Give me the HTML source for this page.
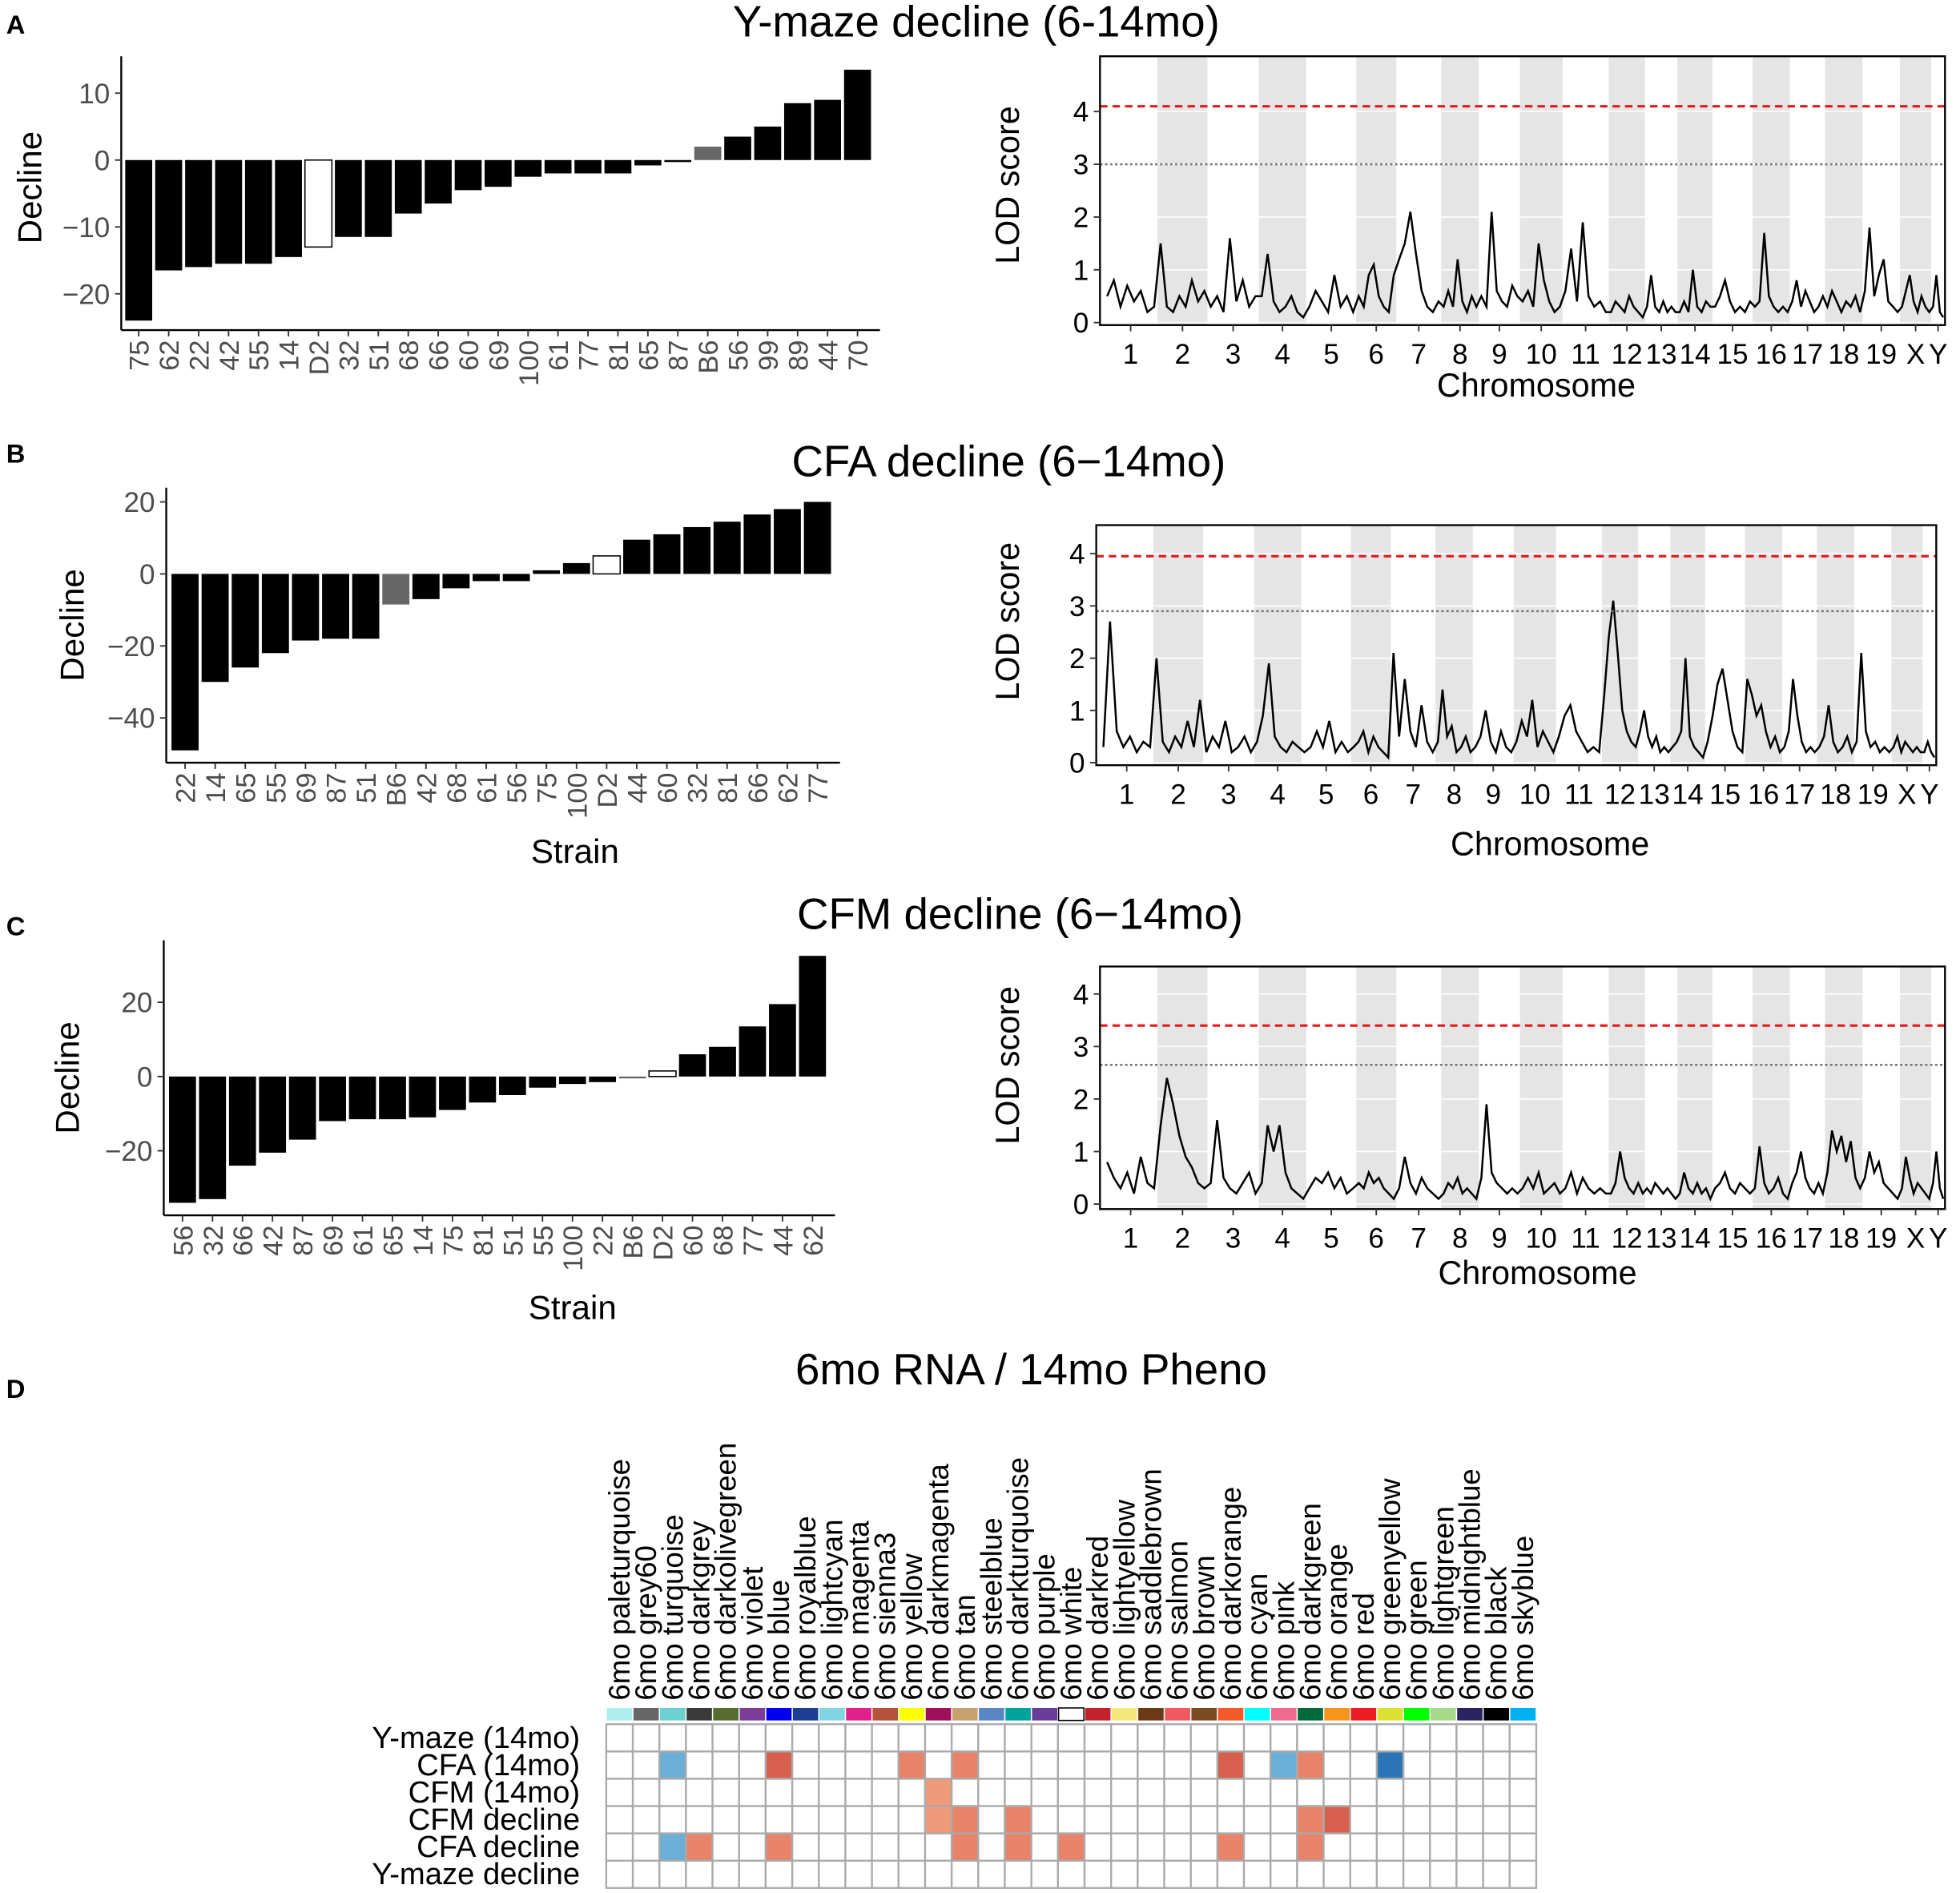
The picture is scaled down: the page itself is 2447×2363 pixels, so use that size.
<!DOCTYPE html>
<html><head><meta charset="utf-8"><style>
html,body{margin:0;padding:0;background:#fff;}
svg{display:block;font-family:"Liberation Sans",Arial,sans-serif;}
</style></head><body>
<svg id="fig" width="2447" height="2363" viewBox="0 0 1568 1514" preserveAspectRatio="none" xmlns="http://www.w3.org/2000/svg">
<g font-weight="bold" font-size="21" fill="#000">
<text x="5" y="27">A</text>
<text x="5" y="370">B</text>
<text x="5" y="748">C</text>
<text x="5" y="1118">D</text>
</g>
<g font-size="35" text-anchor="middle" fill="#000">
<text x="781" y="29">Y-maze decline (6-14mo)</text>
<text x="807" y="381">CFA decline (6−14mo)</text>
<text x="816" y="743">CFM decline (6−14mo)</text>
<text x="825" y="1107">6mo RNA / 14mo Pheno</text>
</g>
<g id="barA"></g>
<g id="barB"></g>
<g id="barC"></g>
<g id="lodA"></g>
<g id="lodB"></g>
<g id="lodC"></g>
<g id="heat"></g>
</svg>
<script>
const NS="http://www.w3.org/2000/svg";
function mk(parent,tag,attrs,text){const e=document.createElementNS(NS,tag);for(const k in attrs)e.setAttribute(k,attrs[k]);if(text!==undefined)e.textContent=text;parent.appendChild(e);return e;}

// ---------- Bar chart data ----------
const strainsA=["75","62","22","42","55","14","D2","32","51","68","66","60","69","100","61","77","81","65","87","B6","56","99","89","44","70"];
const declineA=[-24,-16.5,-16,-15.5,-15.5,-14.5,-13,-11.5,-11.5,-8,-6.5,-4.5,-4,-2.5,-2,-2,-2,-0.8,-0.3,2,3.5,5,8.5,9,13.5];
const ticksA=[10,0,-10,-20];
const strainsB=["22","14","65","55","69","87","51","B6","42","68","61","56","75","100","D2","44","60","32","81","66","62","77"];
const declineB=[-49,-30,-26,-22,-18.5,-18,-18,-8.5,-7,-4,-2,-2,1,3,5,9.5,11,13,14.5,16.5,18,20];
const ticksB=[20,0,-20,-40];
const strainsC=["56","32","66","42","87","69","61","65","14","75","81","51","55","100","22","B6","D2","60","68","77","44","62"];
const declineC=[-34,-33,-24,-20.5,-17,-12,-11.5,-11.5,-11,-9,-7,-5,-3,-2,-1.5,-0.5,1.5,6,8,13.5,19.5,32.5];
const ticksC=[20,0,-20];

function barChart(g,strains,vals,ticks,o){
  const y=v=>o.y0-(v*o.ppu);
  const band=(o.x1-o.xs)/strains.length;
  mk(g,"line",{x1:o.ax,y1:o.top,x2:o.ax,y2:o.bot,stroke:"#000","stroke-width":1.5});
  mk(g,"line",{x1:o.ax,y1:o.bot,x2:o.x1+6,y2:o.bot,stroke:"#000","stroke-width":1.5});
  ticks.forEach(t=>{
    mk(g,"line",{x1:o.ax-5,y1:y(t),x2:o.ax,y2:y(t),stroke:"#333","stroke-width":1.2});
    const tx=mk(g,"text",{x:o.ax-9,y:y(t)+8,"text-anchor":"end","font-size":22.5,fill:"#4d4d4d"},String(t).replace("-","−"));
    
    
  });
  strains.forEach((s,i)=>{
    const v=vals[i];const cx=o.xs+band*(i+0.5);const w=band*0.9;
    let fill="#000";if(s==="D2")fill="#fff";if(s==="B6")fill="#666";
    const r=mk(g,"rect",{x:cx-w/2,y:Math.min(y(v),y(0)),width:w,height:Math.max(Math.abs(y(v)-y(0)),0.6),fill:fill,stroke:s==="D2"?"#000":"none","stroke-width":1});
    
    
    mk(g,"line",{x1:cx,y1:o.bot,x2:cx,y2:o.bot+5,stroke:"#333","stroke-width":1.2});
    const t=mk(g,"text",{x:cx+8,y:o.bot+8,"text-anchor":"end","font-size":22,fill:"#4d4d4d",transform:`rotate(-90 ${cx+8} ${o.bot+8})`},s);
    
    
  });
  const yt=mk(g,"text",{x:o.ytx,y:o.yty,"text-anchor":"middle","font-size":27,transform:`rotate(-90 ${o.ytx} ${o.yty})`},"Decline");
  
  
  if(o.xtitle){const xt=mk(g,"text",{x:o.xtx,y:o.xty,"text-anchor":"middle","font-size":27},"Strain");
    
    }
}
barChart(document.getElementById("barA"),strainsA,declineA,ticksA,{ax:97,top:45,bot:264,y0:128,ppu:5.35,xs:99,x1:698,ytx:33,yty:150});
barChart(document.getElementById("barB"),strainsB,declineB,ticksB,{ax:133,top:390,bot:610,y0:459,ppu:2.88,xs:136,x1:666,ytx:67,yty:500,xtitle:true,xtx:460,xty:690});
barChart(document.getElementById("barC"),strainsC,declineC,ticksC,{ax:131,top:752,bot:972,y0:861,ppu:2.97,xs:134,x1:662,ytx:63,yty:862,xtitle:true,xtx:458,xty:1055});

// ---------- LOD data ----------
const chromNames=["1","2","3","4","5","6","7","8","9","10","11","12","13","14","15","16","17","18","19","X","Y"];
const chromLen=[43,40,41,38,40,32,36,30,33,34,37,29,26,28,32,30,28,30,30,25,11];
const lodA=[[0.5,0.8,0.3,0.7,0.4,0.6,0.2,0.3],[1.5,0.3,0.2,0.5,0.3,0.8,0.4,0.6],[0.3,0.5,0.2,1.6,0.4,0.8,0.3,0.5],[0.5,1.3,0.4,0.2,0.3,0.5,0.2,0.1],[0.3,0.6,0.4,0.2,0.9,0.3,0.5,0.2],[0.5,0.3,0.9,1.1,0.5,0.3,0.2,0.9],[1.2,1.5,2.1,1.3,0.6,0.3,0.2,0.4],[0.3,0.6,0.3,1.2,0.4,0.2,0.5,0.3],[0.5,0.3,2.1,0.6,0.4,0.3,0.7,0.5],[0.4,0.6,0.3,1.5,0.8,0.4,0.2,0.3],[0.6,1.4,0.4,1.9,0.5,0.3,0.4,0.2],[0.2,0.4,0.3,0.2,0.5,0.3,0.2,0.1],[0.3,0.9,0.3,0.2,0.4,0.2,0.3,0.2],[0.2,0.4,0.2,1.0,0.3,0.2,0.4,0.3],[0.3,0.5,0.8,0.4,0.2,0.3,0.2,0.4],[0.3,0.4,1.7,0.5,0.3,0.2,0.3,0.2],[0.4,0.8,0.3,0.6,0.4,0.2,0.3,0.5],[0.3,0.6,0.4,0.2,0.4,0.3,0.5,0.2],[0.6,1.8,0.5,0.9,1.2,0.4,0.3,0.2],[0.3,0.6,0.9,0.4,0.2,0.5,0.3,0.2],[0.3,0.9,0.2,0.1]];
const lodB=[[0.3,2.7,0.6,0.3,0.5,0.2,0.4,0.3],[2.0,0.4,0.2,0.5,0.3,0.8,0.3,1.2],[0.2,0.5,0.3,0.8,0.2,0.3,0.5,0.2],[0.4,0.9,1.9,0.5,0.3,0.2,0.4,0.3],[0.2,0.3,0.6,0.3,0.8,0.2,0.4,0.2],[0.3,0.4,0.6,0.2,0.5,0.3,0.2,0.1],[2.1,0.5,1.6,0.6,0.3,1.1,0.4,0.2],[0.4,1.4,0.5,0.7,0.2,0.3,0.5,0.2],[0.3,0.5,1.0,0.4,0.2,0.6,0.3,0.2],[0.4,0.8,0.5,1.2,0.3,0.6,0.4,0.2],[0.5,0.9,1.1,0.6,0.4,0.2,0.3,0.2],[1.3,2.4,3.1,2.1,1.0,0.6,0.4,0.3],[0.6,1.0,0.5,0.3,0.5,0.2,0.3,0.2],[0.3,0.4,0.6,2.0,0.5,0.3,0.2,0.1],[0.4,0.9,1.5,1.8,1.2,0.6,0.3,0.2],[1.6,1.3,0.9,1.1,0.6,0.3,0.5,0.2],[0.3,0.6,1.6,0.9,0.4,0.2,0.3,0.2],[0.3,0.5,1.1,0.4,0.2,0.3,0.5,0.2],[0.4,2.1,0.6,0.3,0.4,0.2,0.3,0.2],[0.3,0.5,0.2,0.4,0.3,0.2,0.3,0.2],[0.2,0.4,0.2,0.1]];
const lodC=[[0.8,0.5,0.3,0.6,0.2,0.9,0.4,0.3],[1.5,2.4,1.9,1.3,0.9,0.7,0.4,0.3],[0.4,1.6,0.5,0.3,0.2,0.4,0.6,0.2],[0.4,1.5,1.0,1.5,0.6,0.3,0.2,0.1],[0.3,0.5,0.4,0.6,0.3,0.5,0.2,0.3],[0.4,0.3,0.6,0.4,0.5,0.3,0.2,0.1],[0.3,0.9,0.4,0.2,0.5,0.3,0.2,0.1],[0.2,0.4,0.3,0.5,0.2,0.3,0.2,0.1],[0.5,1.9,0.6,0.4,0.3,0.2,0.3,0.2],[0.3,0.5,0.3,0.6,0.2,0.3,0.4,0.2],[0.3,0.6,0.2,0.5,0.3,0.2,0.3,0.2],[0.2,0.4,1.0,0.5,0.3,0.2,0.4,0.2],[0.3,0.2,0.4,0.3,0.2,0.3,0.2,0.1],[0.2,0.6,0.3,0.2,0.4,0.2,0.3,0.1],[0.3,0.4,0.6,0.3,0.2,0.4,0.3,0.2],[0.3,1.1,0.4,0.2,0.3,0.5,0.2,0.1],[0.4,0.6,1.0,0.5,0.3,0.2,0.4,0.2],[0.6,1.4,1.0,1.3,0.8,1.2,0.5,0.3],[0.5,1.0,0.6,0.8,0.4,0.3,0.2,0.1],[0.3,0.9,0.5,0.2,0.4,0.3,0.2,0.1],[0.4,1.0,0.3,0.1]];
const lodTicks=[0,1,2,3,4];
const thrA=[4.1,3.0], thrB=[3.95,2.9], thrC=[3.4,2.65];

function lodChart(g,lod,thr,o){
  const total=chromLen.reduce((a,b)=>a+b,0);
  const X=p=>o.x0+(p/total)*(o.x1-o.x0);
  const Y=v=>o.yb-v*o.ppu;
  let cum=0;const starts=[];
  chromLen.forEach((L,i)=>{starts.push(cum);cum+=L;});
  chromLen.forEach((L,i)=>{
    if(i%2===1){const r=mk(g,"rect",{x:X(starts[i]),y:o.top,width:X(starts[i]+L)-X(starts[i]),height:o.bot-o.top,fill:"#e5e5e5"});
      
      }
  });
  lodTicks.forEach(t=>{mk(g,"line",{x1:o.fx0,x2:o.x1,y1:Y(t),y2:Y(t),stroke:"#fff","stroke-width":1});});
  let d="";
  lod.forEach((arr,ci)=>{
    arr.forEach((v,j)=>{
      const p=starts[ci]+chromLen[ci]*(j+0.5)/arr.length;
      d+=(ci===0&&j===0?"M":"L")+X(p).toFixed(1)+","+Y(v).toFixed(1)+" ";
    });
  });
  const path=mk(g,"path",{d:d,fill:"none",stroke:"#000","stroke-width":1.6});
  
  
  const r1=mk(g,"line",{x1:o.fx0,x2:o.x1,y1:Y(thr[0]),y2:Y(thr[0]),stroke:"#e41a1c","stroke-width":2,"stroke-dasharray":"6,4"});
  
  
  const r2=mk(g,"line",{x1:o.fx0,x2:o.x1,y1:Y(thr[1]),y2:Y(thr[1]),stroke:"#777","stroke-width":1.6,"stroke-dasharray":"2,2"});
  
  
  mk(g,"rect",{x:o.fx0,y:o.top,width:o.x1-o.fx0,height:o.bot-o.top,fill:"none",stroke:"#000","stroke-width":1.5});
  lodTicks.forEach(t=>{
    mk(g,"line",{x1:o.fx0-5,x2:o.fx0,y1:Y(t),y2:Y(t),stroke:"#333","stroke-width":1.2});
    const tx=mk(g,"text",{x:o.fx0-9,y:Y(t)+8,"text-anchor":"end","font-size":22.5,fill:"#000"},String(t));
    
    
  });
  chromNames.forEach((n,i)=>{
    const cx=X(starts[i]+chromLen[i]/2);
    mk(g,"line",{x1:cx,x2:cx,y1:o.bot,y2:o.bot+5,stroke:"#333","stroke-width":1.2});
    const tx=mk(g,"text",{x:cx,y:o.bot+31,"text-anchor":"middle","font-size":22.5,fill:"#000"},n);
    
    
  });
  const yt=mk(g,"text",{x:o.ytx,y:o.yty,"text-anchor":"middle","font-size":26.5,transform:`rotate(-90 ${o.ytx} ${o.yty})`},"LOD score");
  
  
  const xt=mk(g,"text",{x:o.xtx,y:o.xty,"text-anchor":"middle","font-size":26.5},"Chromosome");
  
  
}
lodChart(document.getElementById("lodA"),lodA,thrA,{fx0:880,x0:883,x1:1556,top:45,bot:260,yb:258,ppu:42.2,ytx:815,yty:148,xtx:1229,xty:317});
lodChart(document.getElementById("lodB"),lodB,thrB,{fx0:877,x0:880,x1:1549,top:420,bot:612,yb:610,ppu:41.8,ytx:815,yty:497,xtx:1240,xty:684});
lodChart(document.getElementById("lodC"),lodC,thrC,{fx0:880,x0:883,x1:1556,top:773,bot:967,yb:963,ppu:42,ytx:815,yty:852,xtx:1230,xty:1027});

// ---------- Heatmap ----------
const modules=["paleturquoise","grey60","turquoise","darkgrey","darkolivegreen","violet","blue","royalblue","lightcyan","magenta","sienna3","yellow","darkmagenta","tan","steelblue","darkturquoise","purple","white","darkred","lightyellow","saddlebrown","salmon","brown","darkorange","cyan","pink","darkgreen","orange","red","greenyellow","green","lightgreen","midnightblue","black","skyblue"];
const moduleSwatch=["#aeeeee","#666666","#6ccfd0","#3a3a3a","#556b2f","#7d3c98","#0000ee","#1c3f94","#7fd5e0","#e0218a","#b5523b","#ffff00","#a0105a","#c8a070","#5b86c5","#00a39b","#6a3d9a","#ffffff","#c0232c","#f5e87a","#6b3a14","#f05a5f","#7b4a20","#f0592a","#00ffff","#ee6a8e","#006a3a","#f7941d","#ed1c24","#dde030","#00ff00","#a8d88a","#2a2360","#000000","#00b0f0"];
const traits=["Y-maze (14mo)","CFA (14mo)","CFM (14mo)","CFM decline","CFA decline","Y-maze decline"];
const corrYmaze14=new Array(35).fill(0);
const corrCFA14=[0,0,-0.4,0,0,0,0.6,0,0,0,0,0.45,0,0.45,0,0,0,0,0,0,0,0,0,0.6,0,-0.4,0.45,0,0,-0.7,0,0,0,0,0];
const corrCFM14=[0,0,0,0,0,0,0,0,0,0,0,0,0.4,0,0,0,0,0,0,0,0,0,0,0,0,0,0,0,0,0,0,0,0,0,0];
const corrCFMdec=[0,0,0,0,0,0,0,0,0,0,0,0,0.4,0.5,0,0.5,0,0,0,0,0,0,0,0,0,0,0.5,0.6,0,0,0,0,0,0,0];
const corrCFAdec=[0,0,-0.4,0.5,0,0,0.5,0,0,0,0,0,0,0.45,0,0.5,0,0.45,0,0,0,0,0,0.45,0,0,0.45,0,0,0,0,0,0,0,0];
const corrYmazeDec=new Array(35).fill(0);
const corrRows=[corrYmaze14,corrCFA14,corrCFM14,corrCFMdec,corrCFAdec,corrYmazeDec];

function corrColor(v){
  if(v===0)return "#fff";
  if(v>=0.6)return "#d6604d";
  if(v>=0.45)return "#e8836a";
  if(v>0)return "#f09a7c";
  if(v<=-0.6)return "#2c74b5";
  return "#6baed6";
}
(function(){
  const g=document.getElementById("heat");
  const x0=485,x1=1229,y0=1379,y1=1510;
  const cw=(x1-x0)/modules.length, rh=(y1-y0)/traits.length;
  modules.forEach((m,i)=>{
    const cx=x0+cw*(i+0.5);
    const sw=mk(g,"rect",{x:x0+cw*i+0.5,y:1366,width:cw-1,height:10,fill:moduleSwatch[i],stroke:m==="white"?"#000":"none","stroke-width":1});
    
    
    const t=mk(g,"text",{x:cx+8,y:1360,"font-size":23.5,fill:"#000",transform:`rotate(-90 ${cx+8} 1360)`},"6mo "+m);
    
    
  });
  corrRows.forEach((row,r)=>{
    row.forEach((v,i)=>{
      const c=mk(g,"rect",{x:x0+cw*i,y:y0+rh*r,width:cw,height:rh,fill:corrColor(v),stroke:"#aaaaaa","stroke-width":1.5});
      
      
    });
    const t=mk(g,"text",{x:464,y:y0+rh*(r+0.5)+8,"text-anchor":"end","font-size":24.5,fill:"#000"},traits[r]);
    
    
  });
})();
</script>
</body></html>
